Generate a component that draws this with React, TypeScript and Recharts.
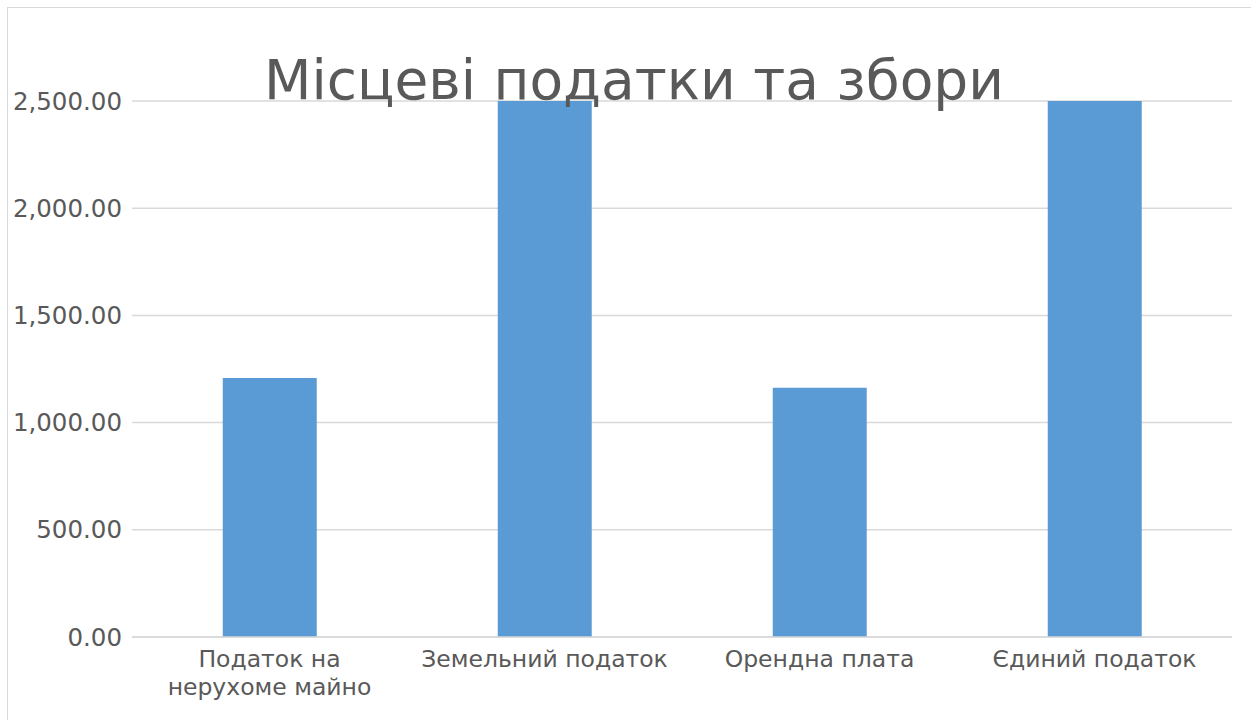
import React from 'react';
import { BarChart, Bar, CartesianGrid, XAxis, YAxis } from 'recharts';

const categories = ['Податок на нерухоме майно', 'Земельний податок', 'Орендна плата', 'Єдиний податок'];
const amounts = [1208, 2500, 1162, 2500];
const yTicks = [0, 500, 1000, 1500, 2000, 2500];

const data = categories.map((name, i) => ({ name, value: amounts[i] }));

const FONT = '"DejaVu Sans", sans-serif';
const GREY = '#595959';

const fmt = (v: number) =>
  v.toLocaleString('en-US', { minimumFractionDigits: 2, maximumFractionDigits: 2 });

// category labels wrap onto two lines when they would not fit the slot
function CategoryTick(props: any) {
  const { x, y, payload } = props;
  const label: string = payload.value;
  const lines = label.length > 20 ? ['Податок на', 'нерухоме майно'] : [label];
  return (
    <text x={x} y={y} textAnchor="middle" fill={GREY} fontFamily={FONT} fontSize={23.5}>
      {lines.map((l, i) => (
        <tspan key={i} x={x} dy={i === 0 ? 30 : 28}>
          {l}
        </tspan>
      ))}
    </text>
  );
}

export default function App() {
  return (
    <div
      style={{
        position: 'absolute',
        left: 7,
        top: 7,
        width: 1260,
        height: 730,
        border: '1px solid #d9d9d9',
        background: '#fff',
      }}
    >
      <BarChart
        width={1243}
        height={712}
        data={data}
        margin={{ top: 93, right: 19, left: 0, bottom: 23 }}
        barCategoryGap="33%"
      >
        <CartesianGrid vertical={false} stroke="#d9d9d9" strokeWidth={1.5} />
        <XAxis
          dataKey="name"
          tick={<CategoryTick />}
          tickLine={false}
          tickSize={0}
          tickMargin={0}
          axisLine={{ stroke: '#d9d9d9', strokeWidth: 1.5 }}
          height={60}
          interval={0}
        />
        <YAxis
          domain={[0, 2500]}
          ticks={yTicks}
          tickFormatter={fmt}
          width={124}
          axisLine={false}
          tickLine={false}
          tickSize={0}
          tickMargin={10}
          allowDataOverflow
          tick={{ fill: GREY, fontFamily: FONT, fontSize: 24.5 }}
        />
        <Bar dataKey="value" fill="#5b9bd5" isAnimationActive={false} />
      </BarChart>
      <div
        style={{
          position: 'absolute',
          top: 40,
          left: 0,
          width: 1252,
          textAlign: 'center',
          fontFamily: FONT,
          fontSize: 55,
          color: GREY,
          lineHeight: '64px',
        }}
      >
        Місцеві податки та збори
      </div>
    </div>
  );
}
